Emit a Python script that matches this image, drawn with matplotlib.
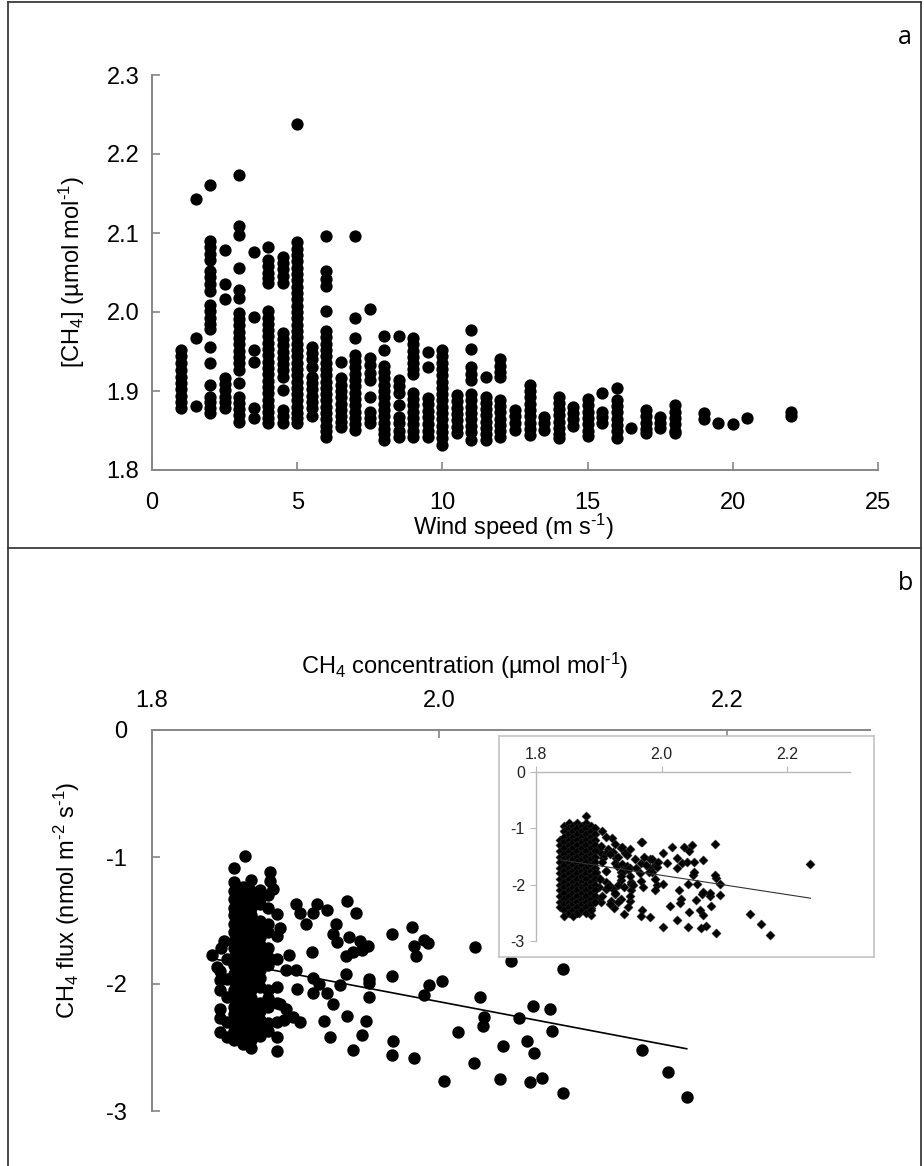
import matplotlib
matplotlib.use('Agg')
import matplotlib.pyplot as plt
from matplotlib.lines import Line2D

plt.rcParams['font.family'] = ['Liberation Sans', 'DejaVu Sans']
plt.rcParams['mathtext.fontset'] = 'custom'
plt.rcParams['mathtext.rm'] = 'Liberation Sans'
plt.rcParams['mathtext.default'] = 'regular'
plt.rcParams['axes.unicode_minus'] = False

# ---- panel a : wind speed vs CH4 (values grouped by wind speed) ----
ws_cols = [1.0, 1.5, 2.0, 2.5, 3.0, 3.5, 4.0, 4.5, 5.0, 5.5, 6.0, 6.5, 7.0, 7.5,
           8.0, 8.5, 9.0, 9.5, 10.0, 10.5, 11.0, 11.5, 12.0, 12.5, 13.0, 13.5,
           14.0, 14.5, 15.0, 15.5, 16.0, 16.5, 17.0, 17.5, 18.0, 19.0, 19.5,
           20.0, 20.5, 22.0]
ch4_cols = [
    [1.952, 1.944, 1.935, 1.926, 1.918, 1.910, 1.902, 1.894, 1.886, 1.879],
    [2.143, 1.967, 1.881],
    [2.161, 2.090, 2.082, 2.074, 2.066, 2.052, 2.044, 2.036, 2.027, 2.009, 2.001,
     1.993, 1.985, 1.978, 1.956, 1.936, 1.908, 1.893, 1.886, 1.879, 1.872],
    [2.079, 2.035, 2.016, 1.917, 1.909, 1.901, 1.893, 1.886, 1.879],
    [2.174, 2.109, 2.098, 2.056, 2.028, 2.018, 1.999, 1.991, 1.983, 1.975, 1.967,
     1.959, 1.951, 1.943, 1.935, 1.927, 1.910, 1.893, 1.885, 1.877, 1.869, 1.861],
    [2.076, 1.994, 1.952, 1.937, 1.879, 1.866],
    [2.082, 2.066, 2.058, 2.050, 2.043, 2.037, 2.001, 1.993, 1.985, 1.977, 1.969,
     1.961, 1.953, 1.945, 1.937, 1.929, 1.921, 1.913, 1.905, 1.897, 1.889, 1.881,
     1.873, 1.866, 1.860],
    [2.070, 2.062, 2.054, 2.046, 2.037, 1.974, 1.966, 1.958, 1.950, 1.942, 1.934,
     1.926, 1.918, 1.901, 1.876, 1.868, 1.860],
    [2.238, 2.088, 2.080, 2.072, 2.064, 2.056, 2.048, 2.040, 2.032, 2.024, 2.016,
     2.008, 2.000, 1.992, 1.984, 1.976, 1.968, 1.960, 1.952, 1.944, 1.936, 1.928,
     1.920, 1.912, 1.904, 1.896, 1.888, 1.880, 1.872, 1.866, 1.860],
    [1.956, 1.948, 1.940, 1.930, 1.918, 1.910, 1.902, 1.894, 1.886, 1.878, 1.868],
    [2.096, 2.052, 2.042, 2.033, 2.001, 1.976, 1.968, 1.960, 1.952, 1.944, 1.936,
     1.928, 1.920, 1.912, 1.904, 1.896, 1.888, 1.880, 1.872, 1.864, 1.856, 1.849, 1.842],
    [1.937, 1.916, 1.908, 1.900, 1.892, 1.884, 1.876, 1.868, 1.861, 1.855],
    [2.096, 1.992, 1.967, 1.946, 1.938, 1.930, 1.922, 1.914, 1.906, 1.898, 1.890,
     1.882, 1.874, 1.866, 1.858, 1.851],
    [2.004, 1.942, 1.933, 1.923, 1.914, 1.893, 1.873, 1.866, 1.860],
    [1.969, 1.952, 1.932, 1.924, 1.916, 1.908, 1.900, 1.892, 1.884, 1.876, 1.868,
     1.860, 1.852, 1.845, 1.838],
    [1.969, 1.914, 1.906, 1.898, 1.882, 1.867, 1.859, 1.850, 1.842],
    [1.967, 1.959, 1.951, 1.943, 1.935, 1.928, 1.921, 1.898, 1.890, 1.882, 1.874,
     1.866, 1.858, 1.850, 1.842],
    [1.950, 1.931, 1.891, 1.883, 1.875, 1.867, 1.858, 1.850, 1.842],
    [1.952, 1.944, 1.936, 1.928, 1.920, 1.912, 1.904, 1.896, 1.888, 1.880, 1.872,
     1.864, 1.856, 1.848, 1.840, 1.832],
    [1.895, 1.887, 1.879, 1.871, 1.863, 1.855, 1.847],
    [1.977, 1.953, 1.930, 1.922, 1.914, 1.896, 1.888, 1.880, 1.872, 1.864, 1.856,
     1.848, 1.838],
    [1.918, 1.893, 1.885, 1.877, 1.869, 1.861, 1.853, 1.845, 1.838],
    [1.940, 1.932, 1.924, 1.918, 1.889, 1.881, 1.873, 1.865, 1.857, 1.849, 1.842],
    [1.876, 1.868, 1.860, 1.851],
    [1.908, 1.900, 1.892, 1.884, 1.876, 1.868, 1.860, 1.852, 1.844],
    [1.867, 1.859, 1.851],
    [1.893, 1.885, 1.877, 1.869, 1.861, 1.853, 1.846, 1.840],
    [1.880, 1.872, 1.864, 1.856],
    [1.890, 1.882, 1.874, 1.866, 1.858, 1.850, 1.843],
    [1.898, 1.874, 1.867, 1.860],
    [1.904, 1.889, 1.881, 1.873, 1.865, 1.857, 1.849, 1.840],
    [1.853],
    [1.876, 1.868, 1.860, 1.852, 1.847],
    [1.867, 1.860, 1.853],
    [1.882, 1.874, 1.866, 1.858, 1.850, 1.847],
    [1.872, 1.865],
    [1.860],
    [1.858],
    [1.866],
    [1.874, 1.868],
]

# ---- panel b : CH4 concentration vs CH4 flux ----
# dense core, grouped by concentration
core_conc = [1.847, 1.852, 1.857, 1.863, 1.869, 1.875, 1.881, 1.887]
core_flux = [
    [-1.90, -1.97, -2.05, -2.20, -2.27, -2.38],
    [-1.80, -1.96, -2.10, -2.30, -2.42],
    [-1.20, -1.27, -1.33, -1.40, -1.46, -1.53, -1.59, -1.66, -1.72, -1.79, -1.85,
     -1.92, -1.98, -2.05, -2.11, -2.18, -2.24, -2.31, -2.37, -2.44],
    [-1.24, -1.30, -1.37, -1.43, -1.50, -1.56, -1.63, -1.69, -1.76, -1.82, -1.89,
     -1.95, -2.02, -2.08, -2.15, -2.21, -2.28, -2.34, -2.41, -2.47],
    [-1.18, -1.27, -1.33, -1.40, -1.46, -1.53, -1.59, -1.66, -1.72, -1.79, -1.85,
     -1.92, -1.98, -2.05, -2.11, -2.18, -2.24, -2.31, -2.37, -2.44, -2.50],
    [-1.26, -1.32, -1.37, -1.50, -1.56, -1.63, -1.69, -1.76, -1.82, -1.89,
     -1.95, -2.02, -2.15, -2.21, -2.28, -2.34, -2.41],
    [-1.30, -1.40, -1.53, -1.59, -1.72, -1.79, -1.85, -2.05, -2.11, -2.18,
     -2.31, -2.37],
    [-1.45, -1.62, -1.80, -2.02, -2.15, -2.30, -2.42],
]
conc_b = [1.865, 1.857, 1.882, 1.882, 1.884, 1.859,
          1.936, 1.942, 1.900, 1.903, 1.915, 1.912, 1.922,
          1.907, 1.928, 1.926, 1.929, 1.889,
          1.937, 1.945, 1.950, 1.940, 1.946, 1.935,
          1.911, 1.895, 1.842, 1.845, 1.850, 1.848,
          1.893, 1.900, 1.935, 1.951, 1.951, 1.912, 1.916,
          1.931, 1.901, 1.912, 1.922, 1.951, 1.926, 1.889, 1.893, 1.898, 1.892,
          1.936, 1.949, 1.920, 1.903, 1.946, 1.924, 1.940, 1.887,
          1.967, 1.981, 1.982, 1.984, 1.989, 1.992, 2.025, 2.050, 2.086,
          1.967, 1.993, 2.002, 1.989, 2.028, 2.065, 2.077, 2.031, 2.030, 2.055,
          2.078, 2.013, 1.968, 1.967, 1.982, 2.044, 2.061, 2.066, 2.024,
          2.141, 2.159, 2.172, 2.003, 2.042, 2.063, 2.071, 2.086]
flux_b = [-0.99, -1.09, -1.12, -1.19, -1.25, -1.25,
          -1.35, -1.44, -1.37, -1.44, -1.37, -1.44, -1.42,
          -1.53, -1.53, -1.61, -1.67, -1.56,
          -1.63, -1.66, -1.70, -1.75, -1.73, -1.78,
          -1.75, -1.77, -1.77, -1.87, -1.66, -1.72,
          -1.89, -1.89, -1.92, -1.96, -1.99, -1.95, -2.00,
          -2.01, -2.04, -2.07, -2.07, -2.10, -2.16, -2.16, -2.20, -2.26, -2.28,
          -2.25, -2.29, -2.29, -2.30, -2.40, -2.42, -2.52, -2.53,
          -1.61, -1.55, -1.70, -1.78, -1.65, -1.68, -1.71, -1.82, -1.88,
          -1.94, -2.01, -1.98, -2.09, -2.10, -2.17, -2.20, -2.26, -2.33, -2.27,
          -2.37, -2.38, -2.45, -2.56, -2.58, -2.49, -2.45, -2.54, -2.62,
          -2.52, -2.69, -2.89, -2.76, -2.75, -2.77, -2.74, -2.86]
fit_conc = [1.842, 2.172]
fit_flux = [-1.80, -2.51]

# ---- inset : full record (extra points on top of panel b data) ----
inset_core_conc = [1.838, 1.845, 1.852, 1.859, 1.866, 1.873, 1.880, 1.887, 1.894]
inset_core_flux = [
    [-1.20, -1.30, -1.40, -1.50, -1.60, -1.70, -1.80, -1.90, -2.00, -2.10, -2.20,
     -2.30, -2.40],
    [-0.95, -1.05, -1.15, -1.25, -1.35, -1.45, -1.55, -1.65, -1.75, -1.85, -1.95,
     -2.05, -2.15, -2.25, -2.35, -2.45, -2.55],
    [-0.90, -1.00, -1.10, -1.20, -1.30, -1.40, -1.50, -1.60, -1.70, -1.80, -1.90,
     -2.00, -2.10, -2.20, -2.30, -2.40, -2.50],
    [-0.95, -1.05, -1.15, -1.25, -1.35, -1.45, -1.55, -1.65, -1.75, -1.85, -1.95,
     -2.05, -2.15, -2.25, -2.35, -2.45, -2.55],
    [-0.90, -1.00, -1.10, -1.20, -1.30, -1.40, -1.50, -1.60, -1.70, -1.80, -1.90,
     -2.00, -2.10, -2.20, -2.30, -2.40, -2.50],
    [-0.95, -1.05, -1.15, -1.25, -1.35, -1.45, -1.55, -1.65, -1.75, -1.85, -1.95,
     -2.05, -2.15, -2.25, -2.35, -2.45],
    [-0.78, -0.90, -1.00, -1.10, -1.20, -1.30, -1.40, -1.50, -1.60, -1.70, -1.80,
     -1.90, -2.00, -2.10, -2.20, -2.30, -2.40, -2.50],
    [-0.95, -1.05, -1.15, -1.25, -1.35, -1.45, -1.55, -1.65, -1.75, -1.85, -1.95,
     -2.05, -2.15, -2.25, -2.35, -2.45],
    [-1.00, -1.10, -1.20, -1.30, -1.40, -1.50, -1.60, -1.70, -1.80, -1.90, -2.00,
     -2.10, -2.20, -2.30],
]
inset_conc_extra = [2.237, 2.085, 1.967, 2.017, 2.036, 2.049, 2.043, 2.003, 2.008, 2.024,
                    2.032, 2.040, 2.052, 2.066, 2.051, 2.085, 2.093, 2.042, 2.057, 2.093,
                    2.077, 2.066,
                    1.903, 1.921, 1.937, 1.950, 1.968, 1.905, 1.912, 1.925, 1.918, 1.930,
                    1.945, 1.958, 1.972, 1.985, 1.995, 1.975, 1.960, 1.905, 1.912, 1.902,
                    1.915, 1.905, 1.925, 1.940, 1.955, 1.935, 1.950, 1.965, 1.980, 1.990,
                    1.970, 1.930, 1.950, 1.918]
inset_flux_extra = [-1.63, -1.27, -1.25, -1.33, -1.33, -1.30, -1.40, -1.43, -1.62, -1.52,
                    -1.62, -1.59, -1.59, -1.57, -1.77, -1.83, -1.98, -1.99, -1.98, -2.18,
                    -2.14, -2.13,
                    -1.31, -1.17, -1.33, -1.36, -1.24, -1.05, -1.15, -1.28, -1.45, -1.50,
                    -1.48, -1.55, -1.50, -1.55, -1.60, -1.65, -1.70, -1.60, -1.75, -1.90,
                    -2.05, -2.20, -2.15, -2.05, -2.00, -1.85, -1.85, -1.80, -1.78, -1.90,
                    -2.05, -2.30, -2.20, -2.35]
inset_fit_conc = [1.840, 2.237]
inset_fit_flux = [-1.56, -2.24]

# flatten grouped values
wind = [w for w, col in zip(ws_cols, ch4_cols) for _ in col]
ch4 = [v for col in ch4_cols for v in col]
conc_main = [c for c, col in zip(core_conc, core_flux) for _ in col] + conc_b
flux_main = [v for col in core_flux for v in col] + flux_b
conc_inset = conc_main + [c for c, col in zip(inset_core_conc, inset_core_flux) for _ in col] + inset_conc_extra
flux_inset = flux_main + [v for col in inset_core_flux for v in col] + inset_flux_extra

W, H = 924, 1166
fig = plt.figure(figsize=(W / 100, H / 100), dpi=100)


def rect(l, t, r, b):
    return [l / W, 1 - b / H, (r - l) / W, (b - t) / H]


axis_grey = '#868686'
tick_fs = 17

# panel a
ax1 = fig.add_axes(rect(152, 75, 878, 470))
ax1.scatter(wind, ch4, s=78, c='black', linewidths=0, zorder=3)
ax1.set_xlim(0, 25)
ax1.set_ylim(1.8, 2.3)
ax1.set_xticks([0, 5, 10, 15, 20, 25])
ax1.set_yticks([1.8, 1.9, 2.0, 2.1, 2.2, 2.3])
ax1.set_yticklabels(['1.8', '1.9', '2.0', '2.1', '2.2', '2.3'])
for s in ['top', 'right']:
    ax1.spines[s].set_visible(False)
for s in ['left', 'bottom']:
    ax1.spines[s].set_color(axis_grey)
    ax1.spines[s].set_linewidth(1.4)
ax1.tick_params(axis='both', direction='in', length=6, width=1.2, color=axis_grey,
                labelsize=tick_fs)
ax1.tick_params(axis='x', pad=16)
ax1.tick_params(axis='y', pad=9)

# panel b
ax2 = fig.add_axes(rect(152, 730, 870, 1111))
ax2.scatter(conc_main, flux_main, s=80, c='black', linewidths=0, zorder=3)
ax2.plot(fit_conc, fit_flux, color='black', lw=1.2, zorder=4)
ax2.set_xlim(1.8, 2.2995)
ax2.set_ylim(-3, 0)
ax2.xaxis.tick_top()
ax2.set_xticks([1.8, 2.0, 2.2])
ax2.set_xticklabels(['1.8', '2.0', '2.2'])
ax2.set_yticks([0, -1, -2, -3])
ax2.set_yticklabels(['0', '-1', '-2', '-3'])
for s in ['bottom', 'right']:
    ax2.spines[s].set_visible(False)
for s in ['left', 'top']:
    ax2.spines[s].set_color(axis_grey)
    ax2.spines[s].set_linewidth(1.4)
ax2.tick_params(axis='both', direction='in', length=6, width=1.2, color=axis_grey,
                labelsize=tick_fs)
ax2.tick_params(axis='x', pad=13)
ax2.tick_params(axis='y', pad=18)

# inset frame and inset axes
axf = fig.add_axes(rect(499, 736, 874, 957), zorder=5)
axf.set_facecolor('white')
axf.set_xticks([])
axf.set_yticks([])
for s in axf.spines.values():
    s.set_color('#c4c4c4')
    s.set_linewidth(1.2)

ax3 = fig.add_axes(rect(536, 772, 850, 941), zorder=6)
ax3.patch.set_alpha(0)
ax3.scatter(conc_inset, flux_inset, s=22, marker='D', c='black', linewidths=0.3,
            edgecolors='#333333', zorder=3)
ax3.plot(inset_fit_conc, inset_fit_flux, color='#333333', lw=0.8, zorder=4)
ax3.set_xlim(1.8, 2.3)
ax3.set_ylim(-3, 0)
ax3.xaxis.tick_top()
ax3.set_xticks([1.8, 2.0, 2.2])
ax3.set_xticklabels(['1.8', '2.0', '2.2'])
ax3.set_yticks([0, -1, -2, -3])
ax3.set_yticklabels(['0', '-1', '-2', '-3'])
for s in ['bottom', 'right']:
    ax3.spines[s].set_visible(False)
for s in ['left', 'top']:
    ax3.spines[s].set_color('#b8b8b8')
    ax3.spines[s].set_linewidth(1.0)
ax3.tick_params(axis='both', direction='out', length=4, width=0.8, color='#b8b8b8',
                labelsize=11.5, labelcolor='#222222')
ax3.tick_params(axis='x', pad=3)
ax3.tick_params(axis='y', pad=4)


# axis titles
def ftext(x, y, s, **kw):
    fig.text(x / W, 1 - y / H, s, **kw)


ftext(514, 527, r'Wind speed (m s$^{\text{-1}}$)', ha='center', va='center', fontsize=tick_fs)
ftext(72, 272, r'[CH$_4$] (µmol mol$^{\text{-1}}$)', ha='center', va='center', rotation=90,
      fontsize=tick_fs)
ftext(301, 666, r'CH$_4$ concentration (µmol mol$^{\text{-1}}$)', ha='left', va='center',
      fontsize=tick_fs)
ftext(67, 900, r'CH$_4$ flux (nmol m$^{\text{-2}}$ s$^{\text{-1}}$)', ha='center', va='center',
      rotation=90, fontsize=tick_fs)
ftext(905, 38, 'a', ha='center', va='center', fontsize=18, family=['Open Sans', 'DejaVu Sans'])
ftext(905, 583, 'b', ha='center', va='center', fontsize=18, family=['Open Sans', 'DejaVu Sans'])

# panel frame
frame_col = '#3c3c3c'
for xs, ys in [([8, 921], [2, 2]), ([8, 8], [2, H]), ([921, 921], [2, H]), ([8, 921], [548, 548])]:
    fig.add_artist(Line2D([x / W for x in xs], [1 - y / H for y in ys],
                          color=frame_col, lw=1.3))

fig.savefig('out.png', dpi=100)
